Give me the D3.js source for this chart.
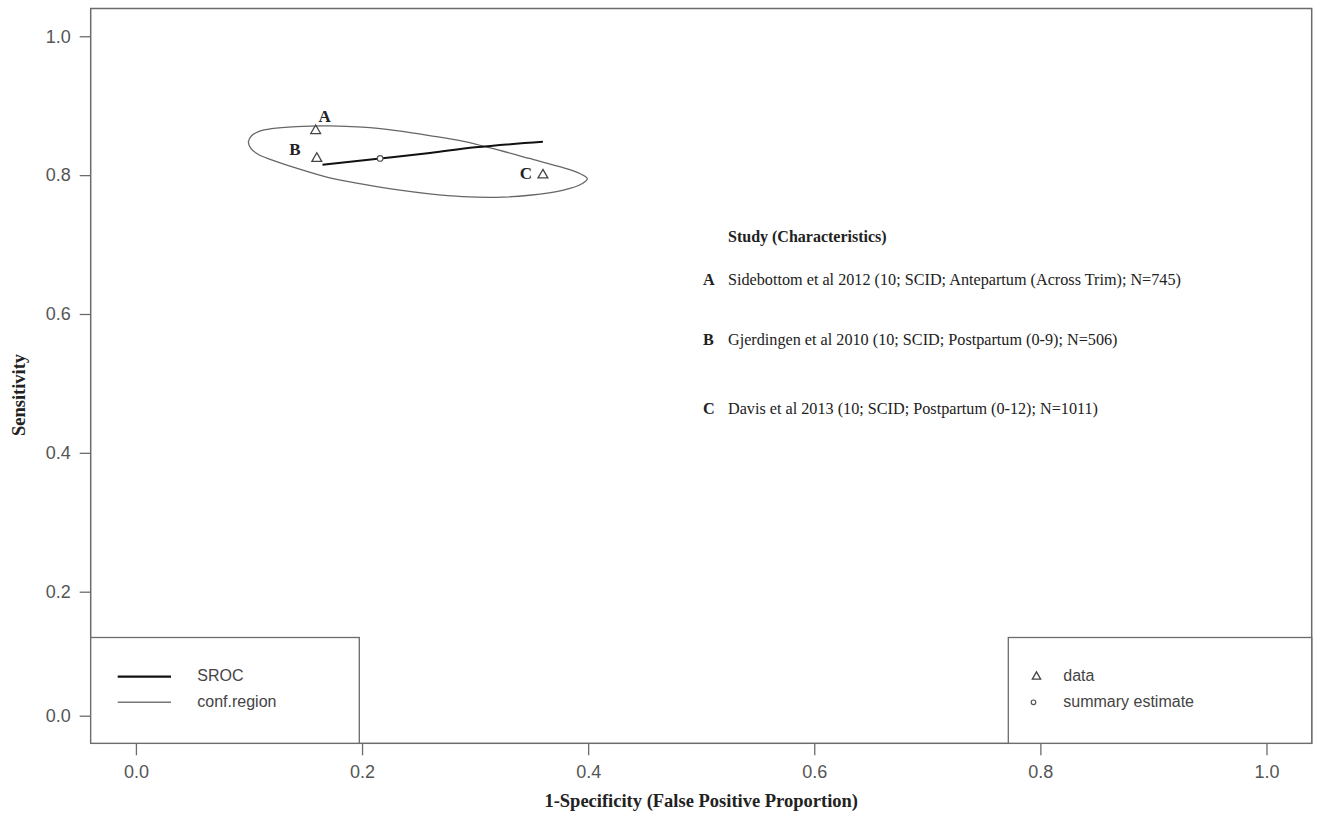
<!DOCTYPE html>
<html>
<head>
<meta charset="utf-8">
<script src="https://cdn.jsdelivr.net/npm/d3@7"></script>
<style>
  body { margin: 0; background: #fff; }
  svg { display: block; }
</style>
</head>
<body>
<svg id="chart" width="1319" height="817"></svg>
<script>
// Axis ticks
const xTicks = [0, 0.2, 0.4, 0.6, 0.8, 1.0];
const yTicks = [0, 0.2, 0.4, 0.6, 0.8, 1.0];

// Individual studies (1-specificity, sensitivity)
const studyLetters = ["A", "B", "C"];
const studyFpr = [0.159, 0.160, 0.360];
const studySens = [0.864, 0.824, 0.800];
const studyNames = [
  "Sidebottom et al 2012 (10; SCID; Antepartum (Across Trim); N=745)",
  "Gjerdingen et al 2010 (10; SCID; Postpartum (0-9); N=506)",
  "Davis et al 2013 (10; SCID; Postpartum (0-12); N=1011)"
];

// Summary estimate
const summaryFpr = [0.216];
const summarySens = [0.824];

// SROC curve
const srocFpr = [0.165, 0.216, 0.260, 0.300, 0.360];
const srocSens = [0.815, 0.824, 0.832, 0.840, 0.848];

// 95% confidence region outline
const regionFpr = [0.0995, 0.1025, 0.1090, 0.1200, 0.1420, 0.1714, 0.2005, 0.2303, 0.2597, 0.2889, 0.3186, 0.3481, 0.3772, 0.3930, 0.3993,
                   0.3949, 0.3772, 0.3481, 0.3189, 0.2889, 0.2597, 0.2303, 0.2005, 0.1714, 0.1420, 0.1200, 0.1080, 0.1015];
const regionSens = [0.848, 0.857, 0.863, 0.867, 0.870, 0.871, 0.869, 0.864, 0.857, 0.849, 0.837, 0.824, 0.811, 0.802, 0.795,
                    0.788, 0.778, 0.771, 0.768, 0.769, 0.773, 0.779, 0.787, 0.796, 0.810, 0.822, 0.830, 0.839];

// Legend entries
const lineLegendLabels = ["SROC", "conf.region"];
const pointLegendLabels = ["data", "summary estimate"];

const svg = d3.select("#chart");
const plot = { left: 90.7, right: 1311.7, top: 8.5, bottom: 743.3 };

const x = d3.scaleLinear().domain([-0.04, 1.04]).range([plot.left, plot.right]);
// vertical scale is slightly compressed below 0.2
const y = d3.scaleLinear().domain([-0.04, 0, 0.2, 1.04]).range([plot.bottom, 715.7, 591.7, plot.top]);

const sans = "'Liberation Sans', Arial, sans-serif";
const serif = "'Liberation Serif', 'Times New Roman', serif";
const axisGrey = "#6b6b6b";
const textGrey = "#555";

// X axis
const xAxis = svg.append("g")
  .attr("transform", `translate(0,${plot.bottom})`)
  .call(d3.axisBottom(x).tickValues(xTicks).tickFormat(d3.format(".1f")).tickSize(12).tickPadding(10));
xAxis.select(".domain").remove();
xAxis.selectAll("line").attr("stroke", axisGrey).attr("stroke-width", 1.3);
xAxis.selectAll("text").attr("font-family", sans).attr("font-size", 18).attr("fill", textGrey);

// Y axis
const yAxis = svg.append("g")
  .attr("transform", `translate(${plot.left},0)`)
  .call(d3.axisLeft(y).tickValues(yTicks).tickFormat(d3.format(".1f")).tickSize(11).tickPadding(9));
yAxis.select(".domain").remove();
yAxis.selectAll("line").attr("stroke", axisGrey).attr("stroke-width", 1.3);
yAxis.selectAll("text").attr("font-family", sans).attr("font-size", 18).attr("fill", textGrey);

// Plot frame
svg.append("rect")
  .attr("x", plot.left).attr("y", plot.top)
  .attr("width", plot.right - plot.left).attr("height", plot.bottom - plot.top)
  .attr("fill", "none").attr("stroke", axisGrey).attr("stroke-width", 1.5);

// Axis titles
svg.append("text")
  .attr("x", (plot.left + plot.right) / 2).attr("y", 803)
  .attr("text-anchor", "middle").attr("dominant-baseline", "middle")
  .attr("font-family", serif).attr("font-weight", "bold").attr("font-size", 18.5).attr("fill", "#222")
  .text("1-Specificity (False Positive Proportion)");

svg.append("text")
  .attr("transform", "translate(21,395) rotate(-90)")
  .attr("text-anchor", "middle").attr("dominant-baseline", "middle")
  .attr("font-family", serif).attr("font-weight", "bold").attr("font-size", 18.5).attr("fill", "#222")
  .text("Sensitivity");

// Confidence region
const regionPts = regionFpr.map((d, i) => [x(d), y(regionSens[i])]);
svg.append("path")
  .attr("d", d3.line().curve(d3.curveCatmullRomClosed.alpha(0.5))(regionPts))
  .attr("fill", "none").attr("stroke", "#666").attr("stroke-width", 1.3);

// SROC curve
const srocPts = srocFpr.map((d, i) => [x(d), y(srocSens[i])]);
svg.append("path")
  .attr("d", d3.line().curve(d3.curveMonotoneX)(srocPts))
  .attr("fill", "none").attr("stroke", "#111").attr("stroke-width", 2);

// Study points
const tri = d3.symbol().type(d3.symbolTriangle).size(42);
svg.append("g").selectAll("path")
  .data(studyFpr)
  .join("path")
  .attr("d", tri)
  .attr("transform", (d, i) => `translate(${x(d)},${y(studySens[i])})`)
  .attr("fill", "none").attr("stroke", "#444").attr("stroke-width", 1.3);

// Study letter labels
const labelOffset = { A: [9, -13], B: [-22, -7], C: [-17, 0] };
svg.append("g").selectAll("text")
  .data(studyLetters)
  .join("text")
  .attr("x", (d, i) => x(studyFpr[i]) + labelOffset[d][0])
  .attr("y", (d, i) => y(studySens[i]) + labelOffset[d][1])
  .attr("text-anchor", "middle").attr("dominant-baseline", "middle")
  .attr("font-family", serif).attr("font-weight", "bold").attr("font-size", 17).attr("fill", "#222")
  .text(d => d);

// Summary estimate
svg.append("g").selectAll("circle")
  .data(summaryFpr)
  .join("circle")
  .attr("cx", d => x(d)).attr("cy", (d, i) => y(summarySens[i]))
  .attr("r", 2.8)
  .attr("fill", "#fff").attr("stroke", "#555").attr("stroke-width", 1.2);

// Study characteristics list
svg.append("text")
  .attr("x", 728).attr("y", 238).attr("dominant-baseline", "middle")
  .attr("font-family", serif).attr("font-weight", "bold").attr("font-size", 16).attr("fill", "#222")
  .text("Study (Characteristics)");
const rowY = [281.7, 341.7, 410];
const rows = svg.append("g").selectAll("g")
  .data(studyLetters)
  .join("g")
  .attr("transform", (d, i) => `translate(0,${rowY[i]})`);
rows.append("text")
  .attr("x", 703).attr("dominant-baseline", "middle")
  .attr("font-family", serif).attr("font-weight", "bold").attr("font-size", 16.2).attr("fill", "#222")
  .text(d => d);
rows.append("text")
  .attr("x", 728).attr("dominant-baseline", "middle")
  .attr("font-family", serif).attr("font-size", 16.2).attr("fill", "#222")
  .text((d, i) => studyNames[i]);

// Line legend (bottom left)
const legTop = 637.5;
svg.append("rect")
  .attr("x", plot.left).attr("y", legTop)
  .attr("width", 359.3 - plot.left).attr("height", plot.bottom - legTop)
  .attr("fill", "#fff").attr("stroke", axisGrey).attr("stroke-width", 1.3);
const lineStyles = [{ stroke: "#111", w: 2.2 }, { stroke: "#777", w: 1.6 }];
const lineRowY = [676.7, 702.3];
lineLegendLabels.forEach((label, i) => {
  svg.append("line")
    .attr("x1", 117.7).attr("x2", 171).attr("y1", lineRowY[i]).attr("y2", lineRowY[i])
    .attr("stroke", lineStyles[i].stroke).attr("stroke-width", lineStyles[i].w);
  svg.append("text")
    .attr("x", 197.3).attr("y", lineRowY[i]).attr("dominant-baseline", "middle")
    .attr("font-family", sans).attr("font-size", 16).attr("fill", "#444")
    .text(label);
});

// Point legend (bottom right)
svg.append("rect")
  .attr("x", 1008.3).attr("y", legTop)
  .attr("width", plot.right - 1008.3).attr("height", plot.bottom - legTop)
  .attr("fill", "#fff").attr("stroke", axisGrey).attr("stroke-width", 1.3);
svg.append("path")
  .attr("d", d3.symbol().type(d3.symbolTriangle).size(30)())
  .attr("transform", `translate(1036.5,${lineRowY[0]})`)
  .attr("fill", "none").attr("stroke", "#444").attr("stroke-width", 1.3);
svg.append("circle")
  .attr("cx", 1033.5).attr("cy", lineRowY[1]).attr("r", 2.3)
  .attr("fill", "none").attr("stroke", "#555").attr("stroke-width", 1.2);
pointLegendLabels.forEach((label, i) => {
  svg.append("text")
    .attr("x", 1063.3).attr("y", lineRowY[i]).attr("dominant-baseline", "middle")
    .attr("font-family", sans).attr("font-size", 16).attr("fill", "#444")
    .text(label);
});
</script>
</body>
</html>
